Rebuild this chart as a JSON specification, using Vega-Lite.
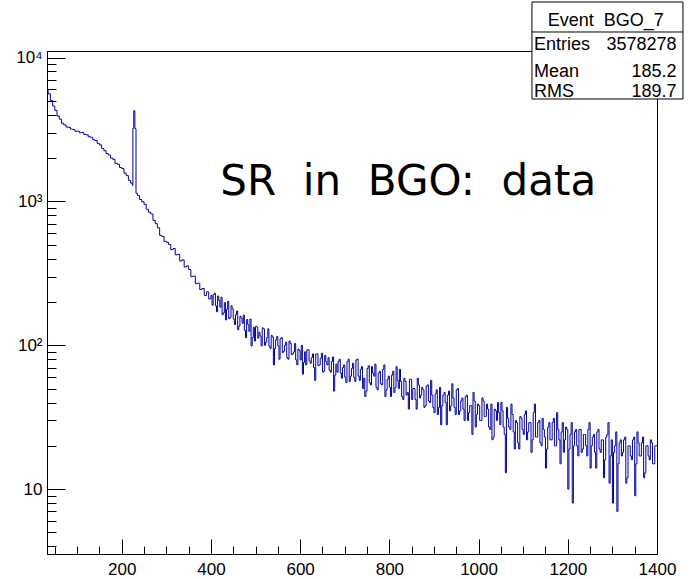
{
  "$schema": "https://vega.github.io/schema/vega-lite/v6.json",
  "width": 610,
  "height": 503,
  "autosize": {"type": "none"},
  "padding": {"left": 47, "top": 51, "right": 36, "bottom": 25},
  "background": "white",
  "config": {
    "view": {"stroke": "black", "strokeWidth": 1},
    "axis": {"grid": false, "domainColor": "black", "tickColor": "black", "labelColor": "black", "labelFont": "Liberation Sans", "labelFontSize": 17, "title": null, "domainWidth": 1, "tickWidth": 1}
  },
  "datasets": {
    "hist": [
      {"energy":30,"counts":6050},{"energy":35,"counts":5600},{"energy":40,"counts":5030},{"energy":45,"counts":4600},{"energy":50,"counts":4290},{"energy":55,"counts":3920},{"energy":60,"counts":3730},{"energy":65,"counts":3490},{"energy":70,"counts":3400},{"energy":75,"counts":3290},{"energy":80,"counts":3270},{"energy":85,"counts":3180},{"energy":90,"counts":3160},{"energy":95,"counts":3070},{"energy":100,"counts":3080},{"energy":105,"counts":3000},{"energy":110,"counts":3010},{"energy":115,"counts":2920},{"energy":120,"counts":2900},{"energy":125,"counts":2810},{"energy":130,"counts":2790},{"energy":135,"counts":2680},{"energy":140,"counts":2650},{"energy":145,"counts":2530},{"energy":150,"counts":2470},{"energy":155,"counts":2330},{"energy":160,"counts":2250},{"energy":165,"counts":2150},{"energy":170,"counts":2100},{"energy":175,"counts":2000},{"energy":180,"counts":1960},{"energy":185,"counts":1840},{"energy":190,"counts":1810},{"energy":195,"counts":1720},{"energy":200,"counts":1690},{"energy":205,"counts":1570},{"energy":210,"counts":1510},{"energy":215,"counts":1400},{"energy":220,"counts":1340},{"energy":224,"counts":1290},{"energy":225,"counts":3230},{"energy":227,"counts":4270},{"energy":229.5,"counts":3200},{"energy":232,"counts":1140},{"energy":235,"counts":1100},{"energy":240,"counts":1030},{"energy":245,"counts":995},{"energy":250,"counts":955},{"energy":255,"counts":880},{"energy":260,"counts":842},{"energy":265,"counts":818},{"energy":270,"counts":738},{"energy":275,"counts":700},{"energy":280,"counts":655},{"energy":285,"counts":580},{"energy":290,"counts":570},{"energy":295,"counts":528},{"energy":300,"counts":520},{"energy":305,"counts":502},{"energy":310,"counts":462},{"energy":315,"counts":470},{"energy":320,"counts":425},{"energy":325,"counts":428},{"energy":330,"counts":385},{"energy":335,"counts":392},{"energy":340,"counts":350},{"energy":345,"counts":356},{"energy":350,"counts":336},{"energy":355,"counts":300},{"energy":360,"counts":302},{"energy":365,"counts":268},{"energy":370,"counts":270},{"energy":375,"counts":244},{"energy":380,"counts":248},{"energy":385,"counts":222},{"energy":390,"counts":235},{"energy":395,"counts":210},{"energy":400,"counts":222},
      {"energy":405,"counts":225},{"energy":410,"counts":188},{"energy":415,"counts":220},{"energy":420,"counts":184},{"energy":425,"counts":163},{"energy":430,"counts":198},{"energy":435,"counts":178},{"energy":440,"counts":153},{"energy":445,"counts":188},{"energy":450,"counts":152},{"energy":455,"counts":163},{"energy":460,"counts":128},{"energy":465,"counts":159},{"energy":470,"counts":142},{"energy":475,"counts":127},{"energy":480,"counts":151},{"energy":485,"counts":125},{"energy":490,"counts":99},{"energy":495,"counts":133},{"energy":500,"counts":135},{"energy":505,"counts":112},{"energy":510,"counts":116},{"energy":515,"counts":132},{"energy":520,"counts":100},{"energy":525,"counts":113},{"energy":530,"counts":99},{"energy":535,"counts":117},{"energy":540,"counts":73},{"energy":545,"counts":109},{"energy":550,"counts":99},{"energy":555,"counts":111},{"energy":560,"counts":89},{"energy":565,"counts":100},{"energy":570,"counts":82},{"energy":575,"counts":107},{"energy":580,"counts":86},{"energy":585,"counts":90},{"energy":590,"counts":79},{"energy":595,"counts":94},{"energy":600,"counts":79},{"energy":605,"counts":63},{"energy":610,"counts":90},{"energy":615,"counts":93},{"energy":620,"counts":78},{"energy":625,"counts":82},{"energy":630,"counts":70},{"energy":635,"counts":87},{"energy":640,"counts":72},{"energy":645,"counts":81},{"energy":650,"counts":65},{"energy":655,"counts":85},{"energy":660,"counts":73},{"energy":665,"counts":67},{"energy":670,"counts":77},{"energy":675,"counts":48},{"energy":680,"counts":74},{"energy":685,"counts":77},{"energy":690,"counts":64},{"energy":695,"counts":70},{"energy":700,"counts":60},
      {"energy":705,"counts":77},{"energy":710,"counts":56},{"energy":715,"counts":69},{"energy":720,"counts":60},{"energy":725,"counts":79},{"energy":730,"counts":61},{"energy":735,"counts":68},{"energy":740,"counts":50},{"energy":745,"counts":44},{"energy":750,"counts":69},{"energy":755,"counts":55},{"energy":760,"counts":71},{"energy":765,"counts":61},{"energy":770,"counts":51},{"energy":775,"counts":64},{"energy":780,"counts":54},{"energy":785,"counts":68},{"energy":790,"counts":44},{"energy":795,"counts":58},{"energy":800,"counts":51},{"energy":805,"counts":62},{"energy":810,"counts":47},{"energy":815,"counts":71},{"energy":820,"counts":50},{"energy":825,"counts":56},{"energy":830,"counts":42},{"energy":835,"counts":56},{"energy":840,"counts":47},{"energy":845,"counts":58},{"energy":850,"counts":42},{"energy":855,"counts":50},{"energy":860,"counts":36},{"energy":865,"counts":53},{"energy":870,"counts":45},{"energy":875,"counts":49},{"energy":880,"counts":38},{"energy":885,"counts":53},{"energy":890,"counts":40},{"energy":895,"counts":45},{"energy":900,"counts":34},{"energy":905,"counts":49},{"energy":910,"counts":37},{"energy":915,"counts":28},{"energy":920,"counts":45},{"energy":925,"counts":40},{"energy":930,"counts":45},{"energy":935,"counts":35},{"energy":940,"counts":54},{"energy":945,"counts":37},{"energy":950,"counts":49},{"energy":955,"counts":33},{"energy":960,"counts":41},{"energy":965,"counts":36},{"energy":970,"counts":44},{"energy":975,"counts":30},{"energy":980,"counts":38},{"energy":985,"counts":24},{"energy":990,"counts":41},{"energy":995,"counts":33},{"energy":1000,"counts":38},
      {"energy":1005,"counts":30},{"energy":1010,"counts":41},{"energy":1015,"counts":32},{"energy":1020,"counts":36},{"energy":1025,"counts":26},{"energy":1030,"counts":22},{"energy":1035,"counts":36},{"energy":1040,"counts":30},{"energy":1045,"counts":34},{"energy":1050,"counts":40},{"energy":1055,"counts":27},{"energy":1060,"counts":13},{"energy":1065,"counts":31},{"energy":1070,"counts":26},{"energy":1075,"counts":33},{"energy":1080,"counts":19},{"energy":1085,"counts":29},{"energy":1090,"counts":19},{"energy":1095,"counts":31},{"energy":1100,"counts":24},{"energy":1105,"counts":35},{"energy":1110,"counts":25},{"energy":1115,"counts":29},{"energy":1120,"counts":22},{"energy":1125,"counts":39},{"energy":1130,"counts":23},{"energy":1135,"counts":30},{"energy":1140,"counts":20},{"energy":1145,"counts":26},{"energy":1150,"counts":14},{"energy":1155,"counts":27},{"energy":1160,"counts":22},{"energy":1165,"counts":29},{"energy":1170,"counts":20},{"energy":1175,"counts":34},{"energy":1180,"counts":22},{"energy":1185,"counts":25},{"energy":1190,"counts":18},{"energy":1195,"counts":27},{"energy":1200,"counts":10},{"energy":1205,"counts":24},{"energy":1210,"counts":8},{"energy":1215,"counts":25},{"energy":1220,"counts":20},{"energy":1225,"counts":26},{"energy":1230,"counts":18},{"energy":1235,"counts":24},{"energy":1240,"counts":20},{"energy":1245,"counts":26},{"energy":1250,"counts":14},{"energy":1255,"counts":23},{"energy":1260,"counts":18},{"energy":1265,"counts":25},{"energy":1270,"counts":19},{"energy":1275,"counts":22},{"energy":1280,"counts":12},{"energy":1285,"counts":23},{"energy":1290,"counts":29},{"energy":1295,"counts":17},{"energy":1300,"counts":8},{"energy":1305,"counts":20},{"energy":1310,"counts":7},{"energy":1315,"counts":21},{"energy":1320,"counts":17},{"energy":1325,"counts":22},{"energy":1330,"counts":11},{"energy":1335,"counts":20},{"energy":1340,"counts":17},{"energy":1345,"counts":22},{"energy":1350,"counts":9},{"energy":1355,"counts":25},{"energy":1360,"counts":17},{"energy":1365,"counts":21},{"energy":1370,"counts":12},{"energy":1375,"counts":20},{"energy":1380,"counts":17},{"energy":1385,"counts":22},{"energy":1390,"counts":15},{"energy":1395,"counts":20},{"energy":1400,"counts":20},
      {"energy":402.5,"counts":190},{"energy":407.5,"counts":230},{"energy":412.5,"counts":171},{"energy":417.5,"counts":205},{"energy":422.5,"counts":216},{"energy":427.5,"counts":168},{"energy":432.5,"counts":150},{"energy":437.5,"counts":202},{"energy":442.5,"counts":156},{"energy":447.5,"counts":179},{"energy":452.5,"counts":139},{"energy":457.5,"counts":173},{"energy":462.5,"counts":136},{"energy":467.5,"counts":154},{"energy":472.5,"counts":162},{"energy":477.5,"counts":113},{"energy":482.5,"counts":139},{"energy":487.5,"counts":152},{"energy":492.5,"counts":113},{"energy":497.5,"counts":107},{"energy":502.5,"counts":134},{"energy":507.5,"counts":123},{"energy":512.5,"counts":99},{"energy":517.5,"counts":130},{"energy":522.5,"counts":105},{"energy":527.5,"counts":130},{"energy":532.5,"counts":95},{"energy":537.5,"counts":114},{"energy":542.5,"counts":95},{"energy":547.5,"counts":115},{"energy":552.5,"counts":80},{"energy":557.5,"counts":113},{"energy":562.5,"counts":91},{"energy":567.5,"counts":105},{"energy":572.5,"counts":80},{"energy":577.5,"counts":103},{"energy":582.5,"counts":87},{"energy":587.5,"counts":103},{"energy":592.5,"counts":73},{"energy":597.5,"counts":92},{"energy":602.5,"counts":100},{"energy":607.5,"counts":76},{"energy":612.5,"counts":73},{"energy":617.5,"counts":93},{"energy":622.5,"counts":75},{"energy":627.5,"counts":87},{"energy":632.5,"counts":57},{"energy":637.5,"counts":87},{"energy":642.5,"counts":73},{"energy":647.5,"counts":88},{"energy":652.5,"counts":66},{"energy":657.5,"counts":77},{"energy":662.5,"counts":82},{"energy":667.5,"counts":65},{"energy":672.5,"counts":83},{"energy":677.5,"counts":62},{"energy":682.5,"counts":65},{"energy":687.5,"counts":80},{"energy":692.5,"counts":59},{"energy":697.5,"counts":73},
      {"energy":702.5,"counts":55},{"energy":707.5,"counts":80},{"energy":712.5,"counts":61},{"energy":717.5,"counts":75},{"energy":722.5,"counts":56},{"energy":727.5,"counts":80},{"energy":732.5,"counts":57},{"energy":737.5,"counts":71},{"energy":742.5,"counts":59},{"energy":747.5,"counts":48},{"energy":752.5,"counts":72},{"energy":757.5,"counts":53},{"energy":762.5,"counts":64},{"energy":767.5,"counts":74},{"energy":772.5,"counts":49},{"energy":777.5,"counts":66},{"energy":782.5,"counts":53},{"energy":787.5,"counts":73},{"energy":792.5,"counts":49},{"energy":797.5,"counts":61},{"energy":802.5,"counts":44},{"energy":807.5,"counts":66},{"energy":812.5,"counts":51},{"energy":817.5,"counts":57},{"energy":822.5,"counts":68},{"energy":827.5,"counts":44},{"energy":832.5,"counts":59},{"energy":837.5,"counts":45},{"energy":842.5,"counts":36},{"energy":847.5,"counts":58},{"energy":852.5,"counts":50},{"energy":857.5,"counts":42},{"energy":862.5,"counts":59},{"energy":867.5,"counts":43},{"energy":872.5,"counts":51},{"energy":877.5,"counts":37},{"energy":882.5,"counts":52},{"energy":887.5,"counts":41},{"energy":892.5,"counts":57},{"energy":897.5,"counts":37},{"energy":902.5,"counts":46},{"energy":907.5,"counts":33},{"energy":912.5,"counts":51},{"energy":917.5,"counts":38},{"energy":922.5,"counts":47},{"energy":927.5,"counts":28},{"energy":932.5,"counts":48},{"energy":937.5,"counts":38},{"energy":942.5,"counts":43},{"energy":947.5,"counts":33},{"energy":952.5,"counts":50},{"energy":957.5,"counts":35},{"energy":962.5,"counts":43},{"energy":967.5,"counts":30},{"energy":972.5,"counts":45},{"energy":977.5,"counts":34},{"energy":982.5,"counts":38},{"energy":987.5,"counts":47},{"energy":992.5,"counts":27},{"energy":997.5,"counts":39},
      {"energy":1002.5,"counts":30},{"energy":1007.5,"counts":43},{"energy":1012.5,"counts":32},{"energy":1017.5,"counts":39},{"energy":1022.5,"counts":27},{"energy":1027.5,"counts":39},{"energy":1032.5,"counts":23},{"energy":1037.5,"counts":35},{"energy":1042.5,"counts":40},{"energy":1047.5,"counts":28},{"energy":1052.5,"counts":35},{"energy":1057.5,"counts":24},{"energy":1062.5,"counts":37},{"energy":1067.5,"counts":27},{"energy":1072.5,"counts":39},{"energy":1077.5,"counts":25},{"energy":1082.5,"counts":30},{"energy":1087.5,"counts":21},{"energy":1092.5,"counts":32},{"energy":1097.5,"counts":26},{"energy":1102.5,"counts":33},{"energy":1107.5,"counts":22},{"energy":1112.5,"counts":29},{"energy":1117.5,"counts":18},{"energy":1122.5,"counts":34},{"energy":1127.5,"counts":23},{"energy":1132.5,"counts":29},{"energy":1137.5,"counts":21},{"energy":1142.5,"counts":31},{"energy":1147.5,"counts":23},{"energy":1152.5,"counts":19},{"energy":1157.5,"counts":29},{"energy":1162.5,"counts":22},{"energy":1167.5,"counts":31},{"energy":1172.5,"counts":20},{"energy":1177.5,"counts":26},{"energy":1182.5,"counts":15},{"energy":1187.5,"counts":29},{"energy":1192.5,"counts":22},{"energy":1197.5,"counts":26},{"energy":1202.5,"counts":19},{"energy":1207.5,"counts":29},{"energy":1212.5,"counts":20},{"energy":1217.5,"counts":26},{"energy":1222.5,"counts":17},{"energy":1227.5,"counts":26},{"energy":1232.5,"counts":19},{"energy":1237.5,"counts":24},{"energy":1242.5,"counts":17},{"energy":1247.5,"counts":29},{"energy":1252.5,"counts":20},{"energy":1257.5,"counts":24},{"energy":1262.5,"counts":14},{"energy":1267.5,"counts":26},{"energy":1272.5,"counts":18},{"energy":1277.5,"counts":22},{"energy":1282.5,"counts":16},{"energy":1287.5,"counts":24},{"energy":1292.5,"counts":11},{"energy":1297.5,"counts":22},{"energy":1302.5,"counts":18},{"energy":1307.5,"counts":25},{"energy":1312.5,"counts":15},{"energy":1317.5,"counts":22},{"energy":1322.5,"counts":18},{"energy":1327.5,"counts":23},{"energy":1332.5,"counts":12},{"energy":1337.5,"counts":20},{"energy":1342.5,"counts":16},{"energy":1347.5,"counts":23},{"energy":1352.5,"counts":15},{"energy":1357.5,"counts":21},{"energy":1362.5,"counts":17},{"energy":1367.5,"counts":23},{"energy":1372.5,"counts":13},{"energy":1377.5,"counts":20},{"energy":1382.5,"counts":16},{"energy":1387.5,"counts":21},{"energy":1392.5,"counts":15},{"energy":1397.5,"counts":20}
    ],
    "statsHeader": [{"header": "Event\u00a0\u00a0BGO_7"}],
    "stats": [
      {"name": "Entries", "value": "3578278"},
      {"name": "Mean", "value": "185.2"},
      {"name": "RMS", "value": "189.7"}
    ],
    "label": [{"text": "SR\u00a0\u00a0in\u00a0\u00a0BGO:\u00a0\u00a0data"}]
  },
  "layer": [
    {
      "data": {"name": "hist"},
      "mark": {"type": "line", "interpolate": "step-after", "color": "#000099", "strokeWidth": 1, "clip": true},
      "encoding": {
        "x": {"field": "energy", "type": "quantitative", "scale": {"domain": [32.5, 1400], "nice": false, "zero": false},
          "axis": {"values": [50,100,150,200,250,300,350,400,450,500,550,600,650,700,750,800,850,900,950,1000,1050,1100,1150,1200,1250,1300,1350,1400],
            "tickCount": 200,
            "format": "d",
            "labelExpr": "indexof([200,400,600,800,1000,1200,1400], datum.value) >= 0 ? datum.label : ''",
            "tickSize": {"condition": {"test": "indexof([200,400,600,800,1000,1200,1400], datum.value) >= 0", "value": -15}, "value": -8},
            "labelPadding": {"condition": {"test": "indexof([200,400,600,800,1000,1200,1400], datum.value) >= 0", "value": 22}, "value": 14},
            "labelFlush": false, "labelOverlap": false}},
        "y": {"field": "counts", "type": "quantitative", "scale": {"type": "log", "domain": [3.54, 11100], "nice": false},
          "axis": {"values": [4,5,6,7,8,9,10,20,30,40,50,60,70,80,90,100,200,300,400,500,600,700,800,900,1000,2000,3000,4000,5000,6000,7000,8000,9000,10000],
            "tickCount": 200,
            "labelExpr": "datum.value == 10 ? '10' : datum.value == 100 ? '10²' : datum.value == 1000 ? '10³' : datum.value == 10000 ? '10⁴' : ''",
            "tickSize": {"condition": {"test": "datum.value == 10 || datum.value == 100 || datum.value == 1000 || datum.value == 10000", "value": -18}, "value": -9},
            "labelPadding": {"condition": {"test": "datum.value == 10 || datum.value == 100 || datum.value == 1000 || datum.value == 10000", "value": 23}, "value": 14},
            "labelOverlap": false, "labelFlush": false}}
      }
    },
    {
      "data": {"name": "label"},
      "mark": {"type": "text", "font": "DejaVu Sans", "fontSize": 42, "align": "left", "baseline": "alphabetic", "color": "black"},
      "encoding": {"x": {"datum": 421, "type": "quantitative"}, "y": {"datum": 1104, "type": "quantitative"}, "text": {"field": "text"}}
    },
    {
      "data": {"values": [{}]},
      "mark": {"type": "rect", "fill": "white", "stroke": "black", "strokeWidth": 1, "clip": false},
      "encoding": {"x": {"datum": 1119.7, "type": "quantitative"}, "x2": {"datum": 1458.2}, "y": {"datum": 24310, "type": "quantitative"}, "y2": {"datum": 5148}}
    },
    {
      "data": {"values": [{}]},
      "mark": {"type": "rule", "color": "black", "strokeWidth": 1, "clip": false},
      "encoding": {"x": {"datum": 1119.7, "type": "quantitative"}, "x2": {"datum": 1458.2}, "y": {"datum": 15047, "type": "quantitative"}}
    },
    {
      "data": {"name": "statsHeader"},
      "mark": {"type": "text", "font": "Liberation Sans", "fontSize": 18, "align": "center", "baseline": "alphabetic", "color": "black", "clip": false},
      "encoding": {"x": {"datum": 1285, "type": "quantitative"}, "y": {"datum": 16560, "type": "quantitative"}, "text": {"field": "header"}}
    },
    {
      "data": {"name": "stats"},
      "transform": [{"filter": "datum.name == 'Entries'"}],
      "layer": [
        {"mark": {"type": "text", "font": "Liberation Sans", "fontSize": 18, "align": "left", "baseline": "alphabetic", "color": "black", "clip": false},
         "encoding": {"x": {"datum": 1124, "type": "quantitative"}, "y": {"datum": 11280, "type": "quantitative"}, "text": {"field": "name"}}},
        {"mark": {"type": "text", "font": "Liberation Sans", "fontSize": 18, "align": "right", "baseline": "alphabetic", "color": "black", "clip": false},
         "encoding": {"x": {"datum": 1444, "type": "quantitative"}, "y": {"datum": 11280, "type": "quantitative"}, "text": {"field": "value"}}}
      ]
    },
    {
      "data": {"name": "stats"},
      "transform": [{"filter": "datum.name == 'Mean'"}],
      "layer": [
        {"mark": {"type": "text", "font": "Liberation Sans", "fontSize": 18, "align": "left", "baseline": "alphabetic", "color": "black", "clip": false},
         "encoding": {"x": {"datum": 1124, "type": "quantitative"}, "y": {"datum": 7357, "type": "quantitative"}, "text": {"field": "name"}}},
        {"mark": {"type": "text", "font": "Liberation Sans", "fontSize": 18, "align": "right", "baseline": "alphabetic", "color": "black", "clip": false},
         "encoding": {"x": {"datum": 1444, "type": "quantitative"}, "y": {"datum": 7357, "type": "quantitative"}, "text": {"field": "value"}}}
      ]
    },
    {
      "data": {"name": "stats"},
      "transform": [{"filter": "datum.name == 'RMS'"}],
      "layer": [
        {"mark": {"type": "text", "font": "Liberation Sans", "fontSize": 18, "align": "left", "baseline": "alphabetic", "color": "black", "clip": false},
         "encoding": {"x": {"datum": 1124, "type": "quantitative"}, "y": {"datum": 5342, "type": "quantitative"}, "text": {"field": "name"}}},
        {"mark": {"type": "text", "font": "Liberation Sans", "fontSize": 18, "align": "right", "baseline": "alphabetic", "color": "black", "clip": false},
         "encoding": {"x": {"datum": 1444, "type": "quantitative"}, "y": {"datum": 5342, "type": "quantitative"}, "text": {"field": "value"}}}
      ]
    }
  ]
}
